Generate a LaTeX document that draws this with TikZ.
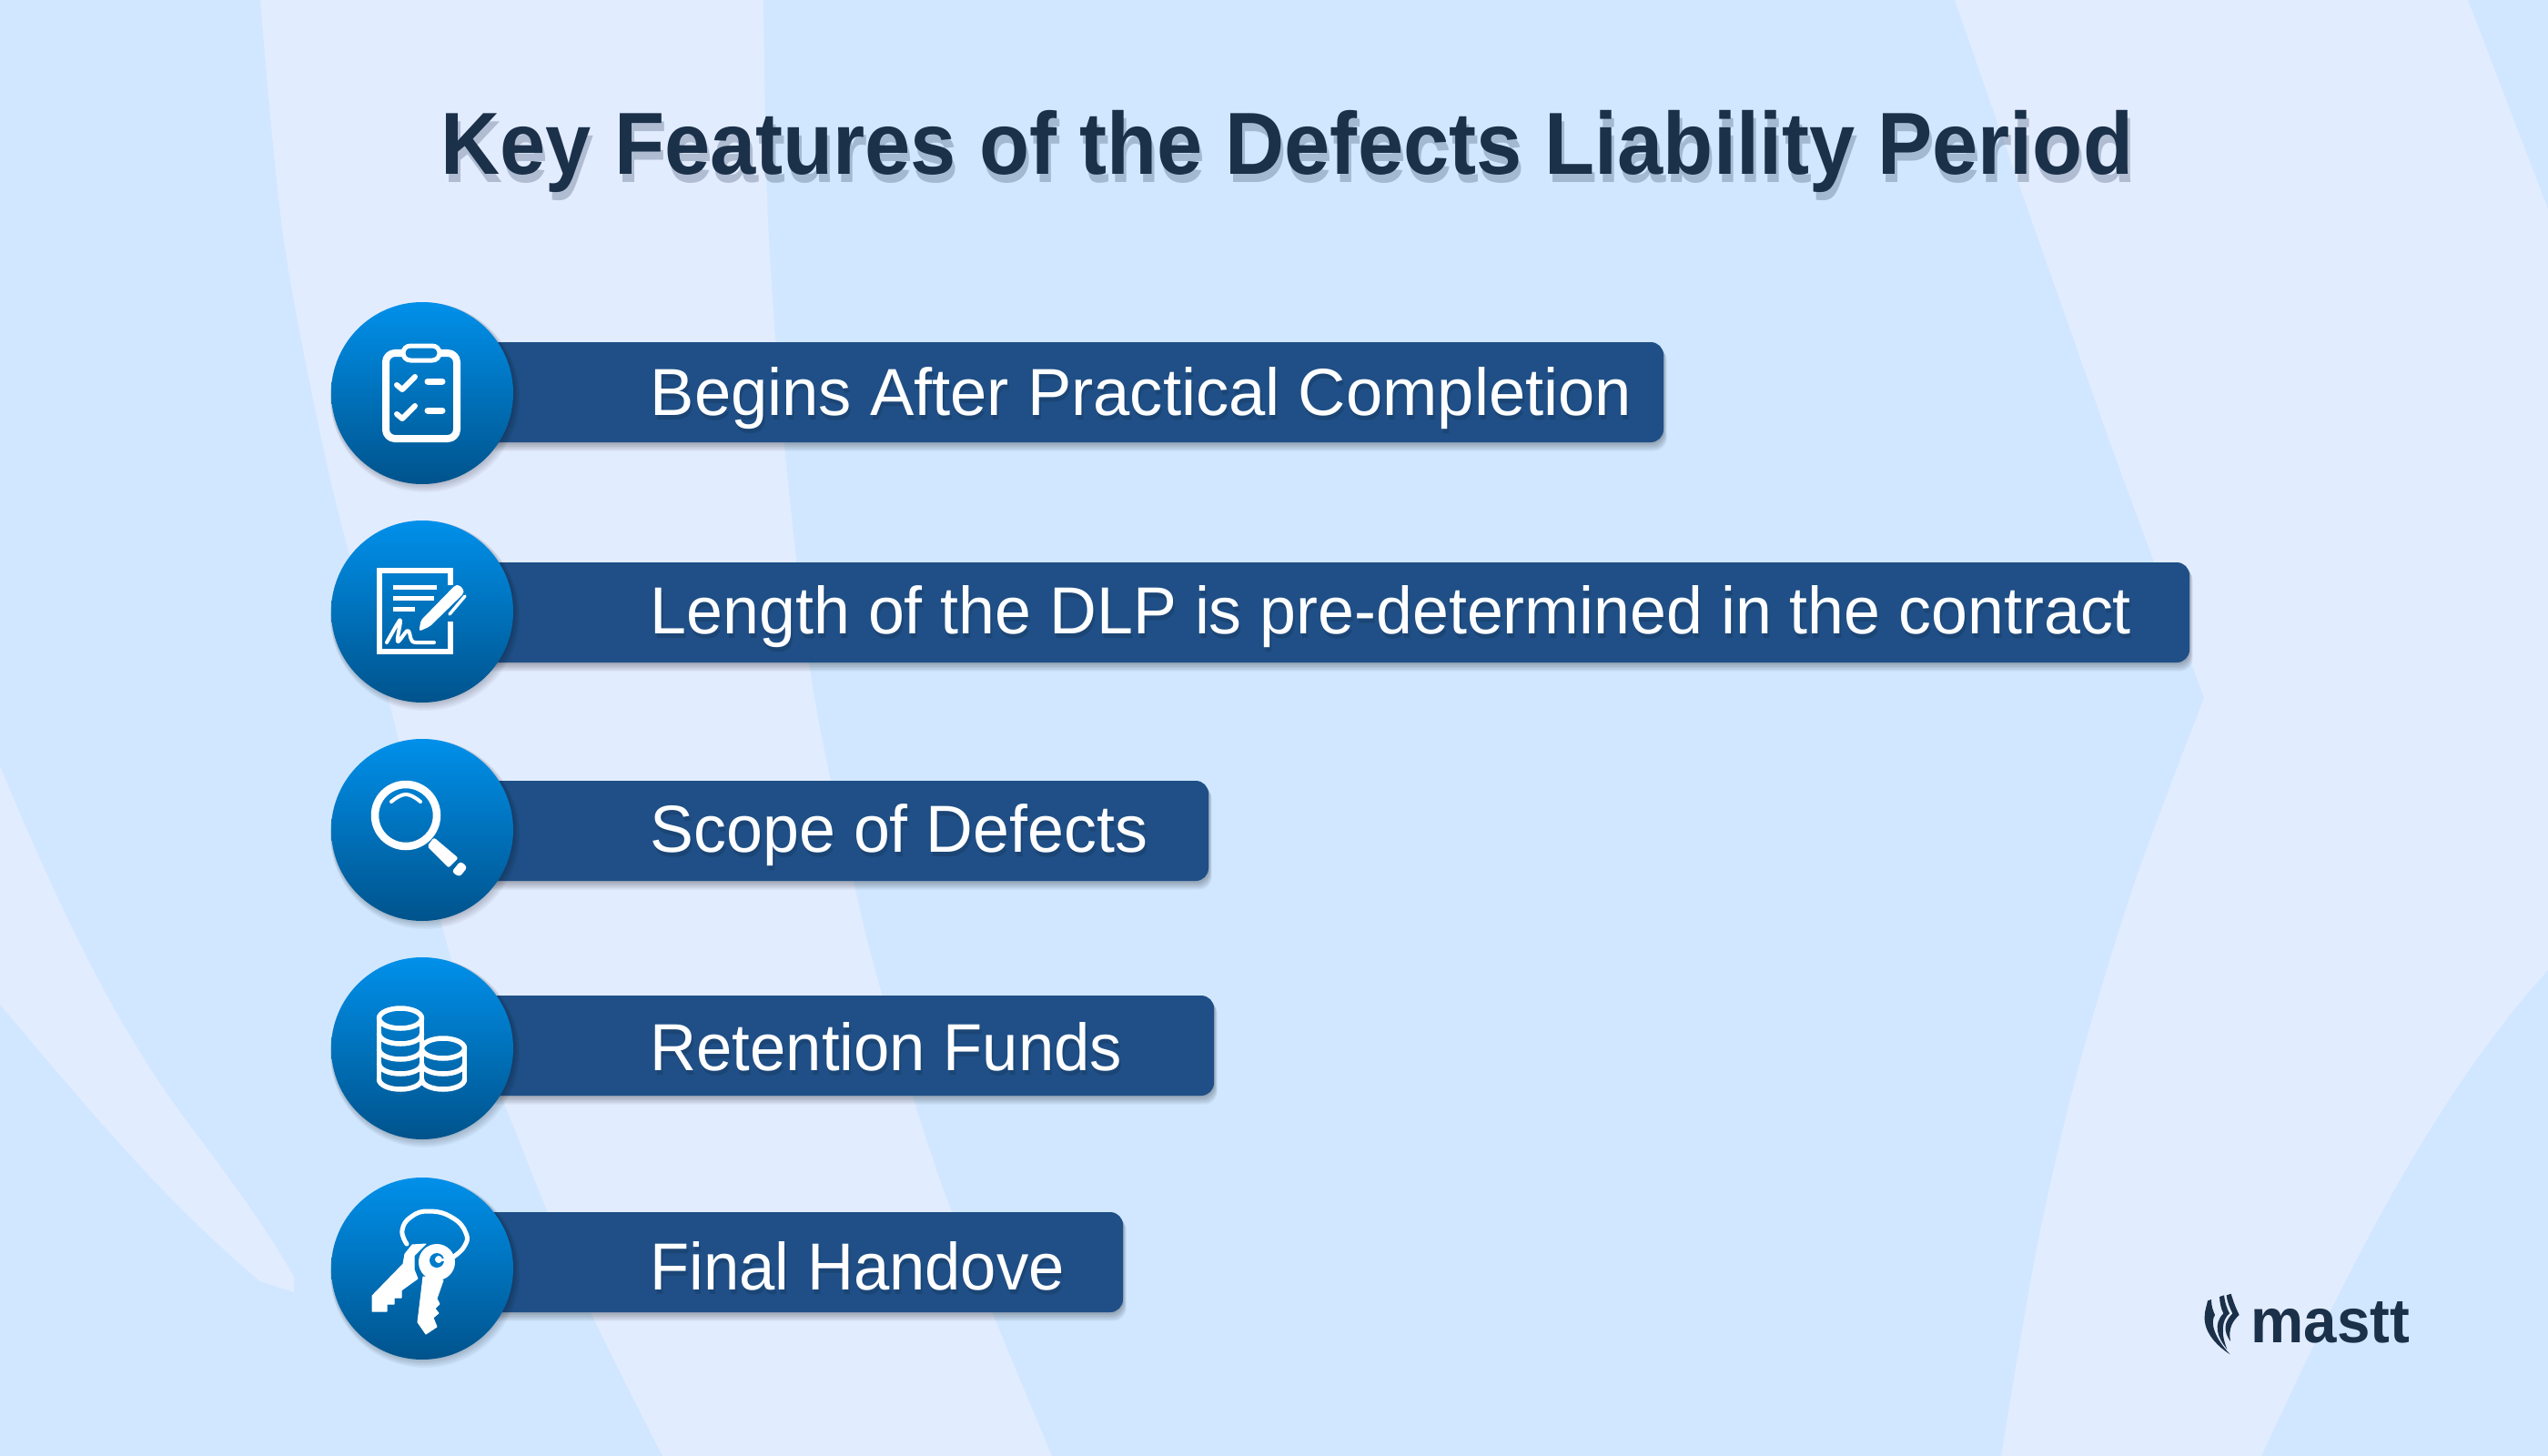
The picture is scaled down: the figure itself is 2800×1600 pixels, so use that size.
\documentclass[tikz,border=0pt]{standalone}
\usepackage{fontspec}
\setmainfont{Liberation Sans}
\usepackage{tikz}
\usetikzlibrary{calc}
\definecolor{basecol}{HTML}{D0E7FF}
\definecolor{bandcol}{HTML}{E2ECFF}
\definecolor{barcol}{HTML}{1F4F86}
\definecolor{titlecol}{HTML}{1B3049}
\definecolor{circtop}{HTML}{0090EA}
\definecolor{circbot}{HTML}{00538C}
\definecolor{iconfill}{HTML}{007CCB}
\tikzset{
  band/.style={fill=bandcol,draw=none},
  iconline/.style={draw=white,line cap=round,line join=round},
  iconsolid/.style={fill=white,draw=white,line width=0.01cm,line join=round},
  titletext/.style={anchor=base west,inner sep=0pt,xscale=0.931,transform shape,font=\fontsize{27.55}{32}\selectfont\bfseries},
  bartext/.style={anchor=base west,inner sep=0pt,transform shape,font=\fontsize{20.8}{25}\selectfont},
  logotext/.style={anchor=base west,inner sep=0pt,xscale=0.95,transform shape,font=\fontsize{19.6}{24}\selectfont\bfseries,text=titlecol}
}
\begin{document}
\begin{tikzpicture}[x=0.01cm,y=-0.01cm]
	\useasboundingbox (0,0) rectangle (2800,1600);
	% background
	\fill[basecol] (0,0) rectangle (2800,1600);
	\fill[band] plot[smooth,tension=0.5] coordinates {(286,0) (312,265) (364,531) (429,776) (495,1051) (571,1255) (643,1429) (728,1600)}
		-- plot[smooth,tension=0.5] coordinates {(1156,1600) (1040,1316) (969,1092) (938,969) (893,755) (862,490) (844,245) (839,0)} -- cycle;
	\fill[band] (0,842) .. controls (70,1010) and (130,1130) .. (200,1225) .. controls (245,1285) and (290,1345) .. (323,1403)
		-- (323,1420) -- (286,1408) .. controls (180,1320) and (90,1210) .. (0,1104) -- cycle;
	\fill[band] (2148,0) -- (2230,235) -- (2320,490) -- (2422,767)
		-- plot[smooth,tension=0.5] coordinates {(2422,767) (2346,969) (2284,1173) (2239,1367) (2199,1600)}
		-- (2485,1600) .. controls (2560,1440) and (2660,1220) .. (2800,1066)
		-- (2800,230) -- (2712,0) -- cycle;
	% title
	\node[titletext,text=titlecol,opacity=0.25] at (484+3,192+8) {Key Features of the Defects Liability Period};
	\node[titletext,text=titlecol] (title) at (484,192) {Key Features of the Defects Liability Period};
	% bars
	\foreach \t/\r in {376/1828,618/2406,858/1328,1094/1334,1332/1234}{
		\foreach \k in {1,...,6}
			\fill[black,opacity=0.05,rounded corners=0.14cm] (500,\t+\k) rectangle (\r+\k*0.6,\t+110+\k*1.6);
		\fill[barcol,rounded corners=0.14cm] (500,\t) rectangle (\r,\t+110);
	}
	% circles
	\foreach \c in {432,672,912,1152,1394}{
		\foreach \k in {1,...,6}
			\fill[black,opacity=0.035] (464+\k*0.5,\c+\k*0.8) circle (100+\k*0.7);
		\shade[top color=circtop,bottom color=circbot] (464,\c) circle (100);
	}
	% labels
	\foreach \name/\base/\sx/\lab in {bar1/456/0.990/Begins After Practical Completion,bar2/696/0.981/Length of the DLP is pre-determined in the contract,bar3/936/0.981/Scope of Defects,bar4/1176/0.966/Retention Funds,bar5/1417/0.965/Final Handove}{
		\node[bartext,xscale=\sx,text=black,opacity=0.12] at (714+2,\base+5) {\lab};
		\node[bartext,xscale=\sx,text=white] (\name) at (714,\base) {\lab};
	}
	% clipboard
	\begin{scope}[shift={(464,432)}]
		\draw[iconline,line width=0.08cm,rounded corners=0.1cm] (-40,-44) rectangle (38,50);
		\draw[iconline,line width=0.05cm,fill=iconfill,rounded corners=0.08cm] (-21,-52) rectangle (19,-36);
		\draw[iconline,line width=0.06cm] (-28,-9) -- (-22,-4) -- (-8,-18);
		\draw[iconline,line width=0.06cm] (-28,23) -- (-22,28) -- (-8,14);
		\draw[iconline,line width=0.07cm] (6,-13) -- (22,-13);
		\draw[iconline,line width=0.07cm] (6,19) -- (22,19);
	\end{scope}
	% signed document
	\begin{scope}[shift={(464,672)}]
		\draw[draw=white,line width=0.06cm,miter limit=10] (31,-29) -- (31,-45) -- (-47,-45) -- (-47,44) -- (31,44) -- (31,11);
		\draw[white,line width=0.05cm] (-32,-27) -- (16,-27);
		\draw[white,line width=0.05cm] (-32,-15) -- (13,-15);
		\draw[white,line width=0.05cm] (-32,-3) -- (-8,-3);
		\fill[iconsolid,rounded corners=0.02cm] (-3,21) -- (-1,10) -- (36,-28) -- (40,-29) -- (45,-24) -- (45,-20) -- (8,16) -- cycle;
		\draw[iconline,line width=0.035cm] (47,-17) -- (30,3);
		\draw[iconline,line width=0.04cm] plot[smooth,tension=0.6] coordinates {(-39,34) (-27,13) (-24,11) (-27,33) (-16,21) (-12,31) (-7,34) (13,34)};
	\end{scope}
	% magnifier
	\begin{scope}[shift={(464,912)}]
		\draw[white,line width=0.085cm] (-18,-16) circle (34);
		\draw[iconline,line width=0.04cm] plot[smooth,tension=0.8] coordinates {(-34,-31) (-18,-39) (-2,-31)};
		\fill[iconsolid,rounded corners=0.02cm] (13,9) -- (39,31) -- (29,41) -- (6,18) -- cycle;
		\fill[iconsolid,rounded corners=0.03cm] (42,35) -- (49,41) -- (41,51) -- (33,46) -- cycle;
	\end{scope}
	% coins
	\begin{scope}[shift={(464,1152)}]
		\begin{scope}[iconline,line width=0.055cm]
			\draw (-24,-33) circle[x radius=23.5,y radius=11];
			\draw (-47.5,-33) -- (-47.5,34);
			\draw (-0.5,-33) -- (-0.5,0);
			\foreach \b in {-16,1,17,34}
				\draw (-47.5,\b) arc[start angle=180,end angle=0,x radius=23.5,y radius=11];
			\draw (23,0) circle[x radius=23.5,y radius=11];
			\draw (46.5,0) -- (46.5,34);
			\draw (-0.5,0) -- (-0.5,34);
			\foreach \b in {17,34}
				\draw (-0.5,\b) arc[start angle=180,end angle=0,x radius=23.5,y radius=11];
		\end{scope}
	\end{scope}
	% keys
	\begin{scope}[shift={(464,1394)}]
		\draw[iconline,line width=0.05cm] plot[smooth,tension=0.8] coordinates {(-17,-27) (-22,-42) (-12,-57) (8,-63) (33,-56) (48,-39) (46,-24) (33,-12)};
		\fill[iconsolid] (-21,-5) -- (-55,30) -- (-55,47) -- (-39,47) -- (-39,39) -- (-31,39) -- (-31,32) -- (-23,32) -- (-23,24) -- (-5,11) -- (-9,1) -- (-9,-14) -- (4,-27) -- (-11,-26) -- (-19,-16) -- cycle;
		\fill[iconsolid] (1,9) -- (-5,59) -- (4,72) -- (16,64) -- (12,54) -- (18,49) -- (14,44) -- (19,39) -- (16,33) -- (23,13) -- cycle;
		\fill[white] (16,-7) circle (20);
		\fill[iconfill] (16,-9) circle (8);
		\fill[white] (18,-10) circle (4);
		\draw[white,line width=0.03cm] (18,-10) -- (26,-10);
	\end{scope}
	% logo
	\begin{scope}[shift={(2390,1400)},scale=1/3]
		\fill[titlecol] (185,65) .. controls (195,100) and (205,120) .. (212,135) .. controls (190,155) and (175,180) .. (183,222) .. controls (160,190) and (160,160) .. (190,130) .. controls (180,110) and (172,90) .. (170,70) -- cycle;
		\fill[titlecol] (147,75) -- (162,70) .. controls (165,95) and (172,115) .. (180,130) .. controls (155,150) and (150,195) .. (172,248) .. controls (140,210) and (125,165) .. (160,130) .. controls (152,115) and (148,95) .. (147,75) -- cycle;
		\fill[titlecol] (108,88) -- (120,84) .. controls (120,105) and (125,120) .. (132,135) .. controls (115,160) and (130,210) .. (182,265) .. controls (135,235) and (95,190) .. (98,140) .. controls (98,120) and (105,105) .. (108,88) -- cycle;
	\end{scope}
	\node[logotext] (logo) at (2473,1475) {mastt};
\end{tikzpicture}
\end{document}
